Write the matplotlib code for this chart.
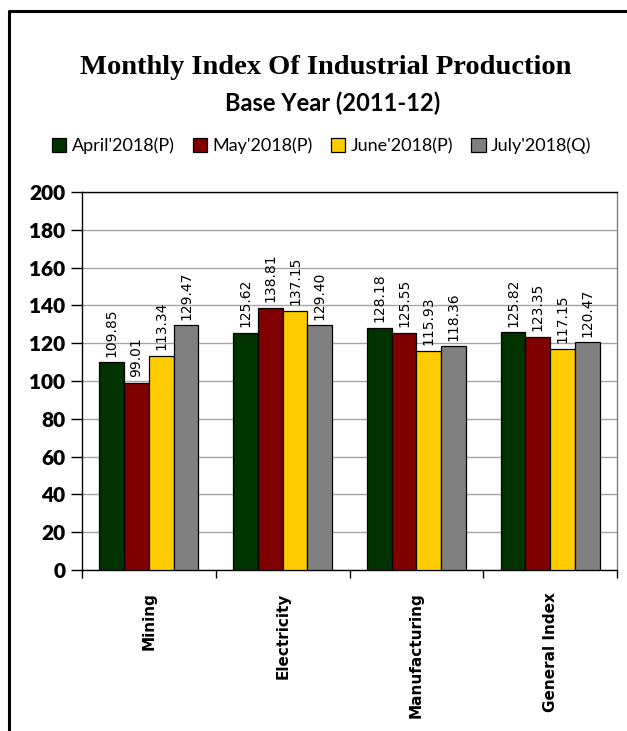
import numpy as np
import matplotlib
matplotlib.use("Agg")
import matplotlib.pyplot as plt
from matplotlib.lines import Line2D

categories = ["Mining", "Electricity", "Manufacturing", "General Index"]
series_names = ["April'2018(P)", "May'2018(P)", "June'2018(P)", "July'2018(Q)"]
april = [109.85, 125.62, 128.18, 125.82]
may = [99.01, 138.81, 125.55, 123.35]
june = [113.34, 137.15, 115.93, 117.15]
july = [129.47, 129.40, 118.36, 120.47]
colors = ["#003300", "#800000", "#FFCC00", "#808080"]

fig = plt.figure(figsize=(6.27, 7.31), dpi=100)
ax = fig.add_axes([0.1308, 0.2202, 0.9841 - 0.1308, 0.7373 - 0.2202])

x = np.arange(len(categories))
w = 0.185
bars = []
for i, (vals, name, c) in enumerate(zip([april, may, june, july], series_names, colors)):
    pos = x + (i - 1.5) * w
    b = ax.bar(pos, vals, w, color=c, edgecolor="black", linewidth=0.9, label=name, zorder=3)
    bars.append(b)
    for xp, v in zip(pos, vals):
        ax.annotate(f"{v:.2f}", (xp, v), xytext=(0, 4), textcoords="offset points",
                    rotation=90, ha="center", va="bottom", fontsize=10,
                    family="DejaVu Sans")

ax.set_xlim(-0.5, 3.5)
ax.set_ylim(0, 200)
ax.set_yticks(np.arange(0, 201, 20))
ax.yaxis.grid(True, color="#A6A6A6", linewidth=1, zorder=0)
ax.set_axisbelow(True)
for t in ax.get_yticklabels():
    t.set_family("Lato")
    t.set_fontweight("heavy")
    t.set_fontsize(15)
ax.tick_params(axis="y", direction="out", length=8, width=1, color="black", pad=4)

ax.set_xticks(x)
ax.set_xticklabels(categories, rotation=90, fontsize=11, fontweight="bold",
                   family="DejaVu Sans", va="top")
ax.tick_params(axis="x", which="major", length=0, pad=16)
ax.set_xticks(np.arange(-0.5, 4, 1), minor=True)
ax.tick_params(axis="x", which="minor", direction="out", length=6, width=1, color="black")

ax.spines["left"].set_color("black")
ax.spines["bottom"].set_color("black")
ax.spines["top"].set_color("black")
ax.spines["right"].set_color("#808080")
for s in ax.spines.values():
    s.set_linewidth(1)

fig.text(0.52, 1 - 67 / 731, "Monthly Index Of Industrial Production", ha="center", va="center",
         fontsize=20.5, fontweight="bold", family="Liberation Serif")
fig.text(0.53, 1 - 103 / 731, "Base Year (2011-12)", ha="center", va="center",
         fontsize=17, fontweight="bold", family="Lato")

leg = fig.legend(handles=bars, labels=series_names, loc="center", ncol=4,
                 bbox_to_anchor=(0.513, 1 - 146 / 731), frameon=False,
                 prop={"family": "Lato", "size": 13}, handlelength=0.8, handleheight=0.8,
                 handletextpad=0.3, columnspacing=1.0, borderpad=0)

# outer frame (left and top only, like the cropped chart border)
fig.add_artist(Line2D([9 / 627, 9 / 627, 1.0], [0.0, 1 - 11 / 731, 1 - 11 / 731],
                      transform=fig.transFigure, color="black", linewidth=2.2))

fig.savefig("out.png", dpi=100)
